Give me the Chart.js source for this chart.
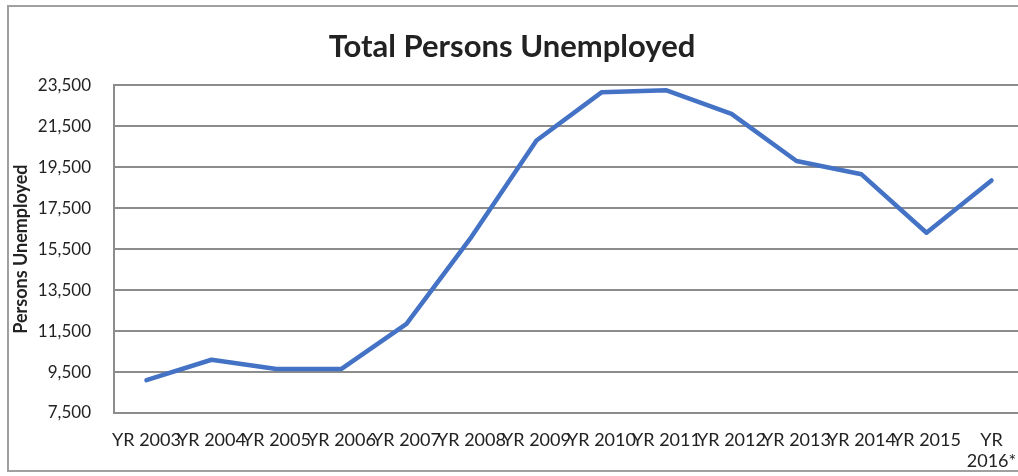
<!DOCTYPE html>
<html>
<head>
<meta charset="utf-8">
<title>Total Persons Unemployed</title>
<script src="https://cdn.jsdelivr.net/npm/chart.js@4/dist/chart.umd.min.js"></script>
<style>
  html, body { margin: 0; padding: 0; background: #fff; overflow: hidden; }
  #frame {
    position: absolute; left: 7px; top: 5px;
    width: 1100px; height: 467px;
    border: 2px solid #a0a0a0; box-sizing: border-box;
  }
  #wrap { position: absolute; left: 0; top: 0; width: 1040px; height: 476px; }
</style>
</head>
<body>
<div id="frame"></div>
<div id="wrap"><canvas id="myChart"></canvas></div>
<script>
'use strict';

// Years along the bottom (last one is a partial year, so it wraps)
let years = ['YR 2003', 'YR 2004', 'YR 2005', 'YR 2006', 'YR 2007', 'YR 2008', 'YR 2009',
  'YR 2010', 'YR 2011', 'YR 2012', 'YR 2013', 'YR 2014', 'YR 2015', ['YR', '2016*']];

// Total persons unemployed for each year
let unemployed = [9100, 10100, 9650, 9650, 11850, 16100, 20800,
  23150, 23250, 22100, 19800, 19150, 16300, 18850];

// Value axis
let yMin = 7500;
let yMax = 23500;
let yStep = 2000;

let fontFamily = 'Lato, "Open Sans", sans-serif';

const data = {
  labels: years,
  datasets: [{
    label: 'Persons Unemployed',
    data: unemployed,
    borderColor: '#4472C4',
    backgroundColor: '#4472C4',
    borderWidth: 4.5,
    pointRadius: 0,
    tension: 0,
    borderCapStyle: 'round',
    borderJoinStyle: 'round'
  }]
};

const config = {
  type: 'line',
  data: data,
  options: {
    responsive: true,
    maintainAspectRatio: false,
    animation: false,
    layout: { padding: { left: 0, right: 16, top: 0, bottom: 0 } },
    plugins: {
      legend: { display: false },
      tooltip: { enabled: false },
      title: {
        display: true,
        text: 'Total Persons Unemployed',
        color: '#222',
        font: { family: fontFamily, size: 31, weight: 'bold' },
        padding: { top: 28, bottom: 20 }
      }
    },
    scales: {
      x: {
        offset: true,
        grid: { display: false },
        border: { display: false },
        ticks: {
          color: '#222',
          font: { family: fontFamily, size: 18 },
          maxRotation: 0,
          minRotation: 0,
          autoSkip: false,
          padding: 8
        },
        afterFit: function (scale) { scale.height = 63; }
      },
      y: {
        min: yMin,
        max: yMax,
        grid: { color: '#8c8c8c', lineWidth: 2, drawTicks: false },
        border: { display: true, color: '#8c8c8c', width: 2 },
        ticks: {
          stepSize: yStep,
          color: '#222',
          font: { family: fontFamily, size: 17 },
          padding: 23,
          callback: function (value) { return value.toLocaleString('en-US'); }
        },
        title: {
          display: true,
          text: 'Persons Unemployed',
          color: '#222',
          font: { family: fontFamily, size: 18, weight: 'bold' },
          padding: { top: 10, bottom: 0 }
        },
        afterFit: function (scale) { scale.width = 114; }
      }
    }
  }
};

const myChart = new Chart(document.getElementById('myChart'), config);
</script>
</body>
</html>
